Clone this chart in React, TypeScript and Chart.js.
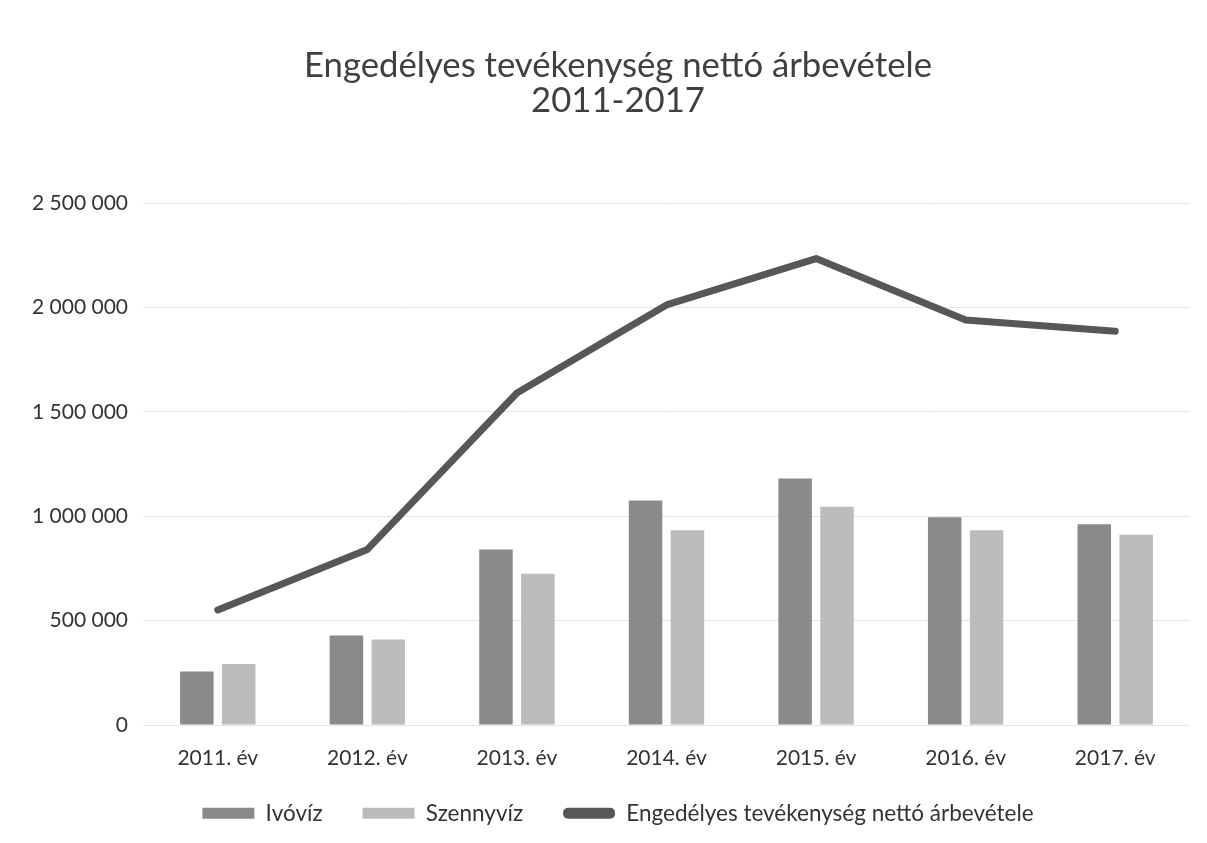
import React, { useEffect, useRef } from "react";
import { Chart, registerables } from "chart.js";

Chart.register(...registerables);

const categories = ["2011. év", "2012. év", "2013. év", "2014. év", "2015. év", "2016. év", "2017. év"];
const ivoviz = [256000, 429000, 840000, 1075000, 1181000, 995000, 962000];
const szennyviz = [292000, 410000, 724000, 933000, 1045000, 933000, 911000];
const osszesen = [551000, 841000, 1590000, 2012000, 2234000, 1940000, 1886000];
const titleLines = ["Engedélyes tevékenység nettó árbevétele", "2011-2017"];
const seriesNames = ["Ivóvíz", "Szennyvíz", "Engedélyes tevékenység nettó árbevétele"];

const FONT = "Lato, 'Open Sans', sans-serif";

const fmt = (v: number) => String(Math.round(v)).replace(/\B(?=(\d{3})+(?!\d))/g, " ");

// let tick labels overflow their axis box instead of being clipped
const noClip = (s: any) => {
  s._computeLabelArea = () => undefined;
};

export default function App() {
  const ref = useRef<HTMLCanvasElement | null>(null);
  useEffect(() => {
    document.body.style.margin = "0";
    const ctx = ref.current!;
    const chart = new Chart(ctx, {
      type: "bar",
      data: {
        labels: categories,
        datasets: [
          {
            type: "bar",
            label: seriesNames[0],
            data: ivoviz,
            backgroundColor: "#8a8a8a",
            categoryPercentage: 0.56,
            barPercentage: 0.8,
          },
          {
            type: "bar",
            label: seriesNames[1],
            data: szennyviz,
            backgroundColor: "#bcbcbc",
            categoryPercentage: 0.56,
            barPercentage: 0.8,
          },
          {
            type: "line",
            label: seriesNames[2],
            data: osszesen,
            borderColor: "#575757",
            backgroundColor: "#575757",
            borderWidth: 7,
            pointRadius: 0,
            borderCapStyle: "round",
            borderJoinStyle: "round",
            tension: 0,
          } as any,
        ],
      },
      options: {
        animation: false,
        responsive: false,
        maintainAspectRatio: false,
        layout: { padding: { left: 46, right: 17, top: 0, bottom: 8.5 } },
        plugins: {
          tooltip: { enabled: false },
          title: {
            display: true,
            text: titleLines,
            color: "#404040",
            font: { family: FONT, size: 34.7, weight: "normal", lineHeight: 35 / 34.7 },
            padding: { top: 48, bottom: 85 },
          },
          legend: {
            position: "bottom",
            labels: {
              color: "#333333",
              font: { family: FONT, size: 22.5 },
              boxWidth: 52,
              boxHeight: 11,
              padding: 40,
              useBorderRadius: true,
              generateLabels: (c: any) => {
                const items = (Chart.defaults.plugins.legend.labels as any).generateLabels(c);
                items.forEach((it: any, i: number) => {
                  it.lineWidth = 0;
                  it.borderRadius = i === 2 ? 5 : 0;
                });
                return items;
              },
            },
          },
        },
        scales: {
          x: {
            grid: { display: false },
            border: { display: false },
            ticks: { color: "#333333", font: { family: FONT, size: 21 }, padding: 13, maxRotation: 0 },
            afterFit: (s: any) => {
              s.height = 37;
            },
            afterUpdate: noClip,
          },
          y: {
            min: 0,
            max: 2500000,
            grid: { color: "#e4e4e4", drawTicks: false },
            border: { display: false },
            ticks: {
              stepSize: 500000,
              color: "#333333",
              font: { family: FONT, size: 21 },
              padding: 15,
              callback: (v: any) => fmt(Number(v)),
            },
            afterFit: (s: any) => {
              s.width = 97;
            },
            afterUpdate: noClip,
          },
        },
      },
    });
    return () => chart.destroy();
  }, []);
  return (
    <div style={{ width: 1207, height: 843, background: "#fff" }}>
      <canvas ref={ref} width={1207} height={843} style={{ display: "block" }} />
    </div>
  );
}
